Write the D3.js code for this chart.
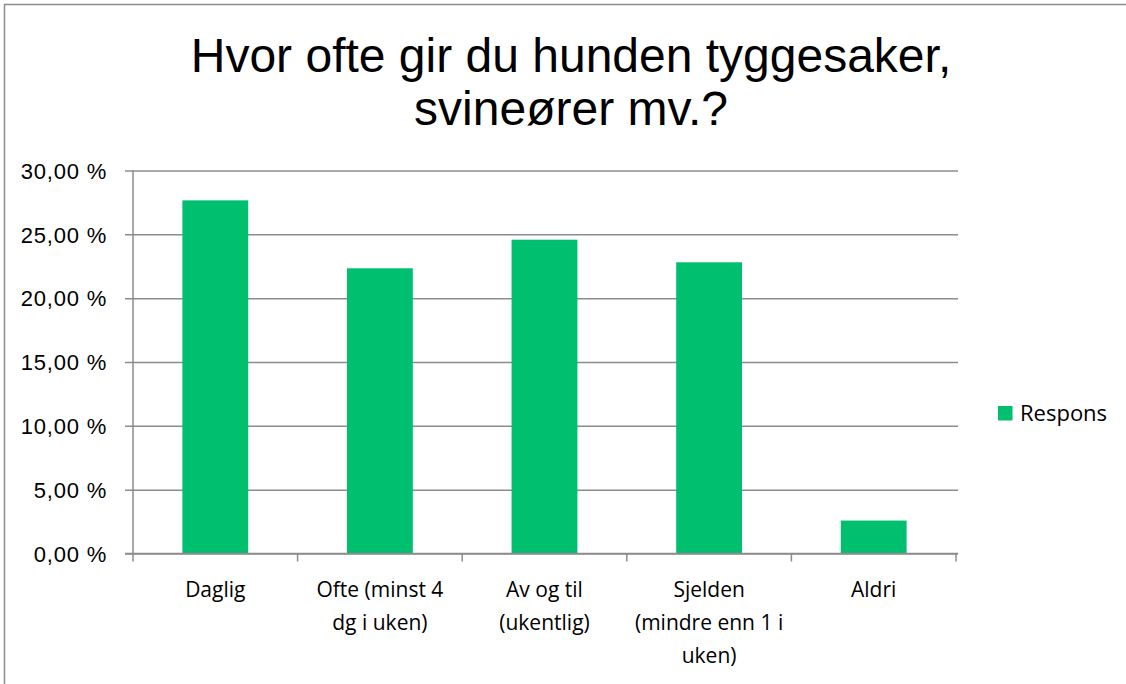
<!DOCTYPE html>
<html>
<head>
<meta charset="utf-8">
<script src="https://cdn.jsdelivr.net/npm/d3@7"></script>
<style>
  html, body { margin: 0; padding: 0; background: #fff; }
  svg { display: block; }
</style>
</head>
<body>
<svg id="chart" width="1126" height="684"></svg>
<script>
const titleLines = ["Hvor ofte gir du hunden tyggesaker,", "svineører mv.?"];
const categories = ["Daglig", "Ofte (minst 4 dg i uken)", "Av og til (ukentlig)", "Sjelden (mindre enn 1 i uken)", "Aldri"];
const categoryLabelLines = [["Daglig"], ["Ofte (minst 4", "dg i uken)"], ["Av og til", "(ukentlig)"], ["Sjelden", "(mindre enn 1 i", "uken)"], ["Aldri"]];
const values = [27.66, 22.34, 24.58, 22.81, 2.58];
const yTicks = [0, 5, 10, 15, 20, 25, 30];
const seriesName = "Respons";

const svg = d3.select("#chart");
const W = 1126, H = 684;
const plot = { left: 133, right: 956, top: 170.5, bottom: 553.5 };
const green = "#00BF6F";
const grid = "#8c8c8c";

// border
svg.append("rect").attr("x", 4.5).attr("y", 4.5).attr("width", W + 20).attr("height", H + 20)
  .attr("fill", "#fff").attr("stroke", "#8c8c8c").attr("stroke-width", 1.5);

// title
const title = svg.append("text").attr("text-anchor", "middle")
  .attr("font-family", "'Liberation Sans', Arial, sans-serif").attr("font-size", 48).attr("fill", "#000");
titleLines.forEach((t, i) => {
  title.append("tspan").attr("x", 571).attr("y", 72 + i * 53).text(t);
});

const x = d3.scaleBand().domain(categories).range([plot.left, plot.right]).paddingInner(0.6).paddingOuter(0.3);
const y = d3.scaleLinear().domain([0, 30]).range([plot.bottom, plot.top]);

const locale = d3.formatLocale({ decimal: ",", thousands: " ", grouping: [3], currency: ["", " kr"] });
const fmt = v => locale.format(".2f")(v) + " %";

// gridlines + y ticks
const yAxis = d3.axisLeft(y).tickValues(yTicks).tickSize(-(plot.right - plot.left + 2)).tickPadding(12).tickFormat(fmt);
const gy = svg.append("g").attr("transform", `translate(${plot.left},0)`).call(yAxis);
gy.select(".domain").remove();
gy.selectAll(".tick line").attr("stroke", grid).attr("stroke-width", 1.5).attr("x1", -8);
gy.selectAll(".tick text").attr("font-family", "'Liberation Sans', Arial, sans-serif")
  .attr("font-size", 22).attr("letter-spacing", "0.8px").attr("fill", "#000").attr("x", -26).attr("dy", "0.35em");

// y axis line
svg.append("line").attr("x1", plot.left).attr("x2", plot.left).attr("y1", y(30)).attr("y2", y(0))
  .attr("stroke", grid).attr("stroke-width", 1.5);

// bars
svg.append("g").selectAll("rect").data(values).join("rect")
  .attr("x", (d, i) => x(categories[i]))
  .attr("width", x.bandwidth())
  .attr("y", d => y(d))
  .attr("height", d => y(0) - y(d))
  .attr("fill", green);

// x axis baseline
svg.append("line").attr("x1", plot.left - 8).attr("x2", plot.right + 2).attr("y1", y(0)).attr("y2", y(0))
  .attr("stroke", grid).attr("stroke-width", 1.5);

// category boundary ticks
const step = x.step();
const bounds = d3.range(categories.length + 1).map(i => x(categories[0]) - step * x.paddingOuter() + i * step);
svg.append("g").selectAll("line").data(bounds).join("line")
  .attr("x1", d => d).attr("x2", d => d).attr("y1", y(0)).attr("y2", y(0) + 8)
  .attr("stroke", grid).attr("stroke-width", 1.5);

// category labels
const gx = svg.append("g");
categories.forEach((c, i) => {
  const t = gx.append("text").attr("text-anchor", "middle")
    .attr("font-family", "'Open Sans', 'Noto Sans', sans-serif").attr("font-size", 21).attr("fill", "#000");
  categoryLabelLines[i].forEach((ln, j) => {
    t.append("tspan").attr("x", x(c) + x.bandwidth() / 2).attr("y", 597 + j * 33).text(ln);
  });
});

// legend
svg.append("rect").attr("x", 998).attr("y", 406).attr("width", 14.5).attr("height", 14.5).attr("fill", green);
svg.append("text").attr("x", 1020).attr("y", 420.5)
  .attr("font-family", "'Open Sans', 'Noto Sans', sans-serif").attr("font-size", 22).attr("fill", "#000").text(seriesName);
</script>
</body>
</html>
